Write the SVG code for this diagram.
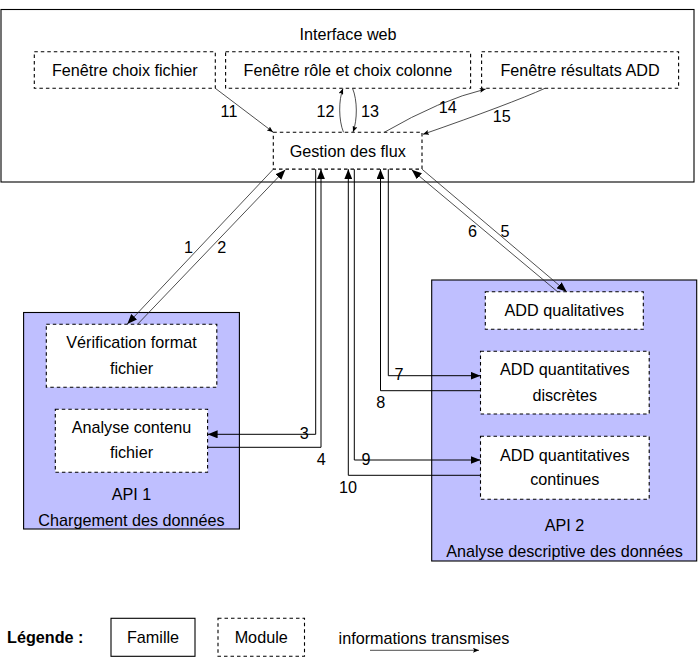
<svg xmlns="http://www.w3.org/2000/svg" width="699" height="671" viewBox="0 0 699 671">
<style>
  text { font-family: "Liberation Sans", Arial, sans-serif; font-size: 16.2px; fill: #000; text-anchor: middle; }
  .fam { fill: #bfbfff; stroke: #000; stroke-width: 1.1; }
  .frame { fill: #fff; stroke: #000; stroke-width: 1.1; }
  .mod { fill: #fff; stroke: #000; stroke-width: 1.1; stroke-dasharray: 3.5 3; }
  .ln { fill: none; stroke: #000; stroke-width: 1; }
  .dg { fill: none; stroke: #222; stroke-width: 0.8; }
  .cv { fill: none; stroke: #222; stroke-width: 0.8; }
  .bold { font-weight: bold; text-anchor: start; }
</style>
<defs>
  <marker id="big" markerUnits="userSpaceOnUse" markerWidth="10" markerHeight="8" refX="10" refY="4" orient="auto">
    <path d="M0,0 L10,4 L0,8 z" fill="#000"/>
  </marker>
  <marker id="small" markerUnits="userSpaceOnUse" markerWidth="6" markerHeight="5" refX="6" refY="2.5" orient="auto">
    <path d="M0,0 L6,2.5 L0,5 L1.2,2.5 z" fill="#000"/>
  </marker>
</defs>

<g id="interface-web">
  <rect class="frame" x="1" y="9.5" width="693" height="172.5"/>
  <text x="348" y="40">Interface web</text>
</g>
<g id="fenetre-choix-fichier">
  <rect class="mod" x="34.3" y="51.7" width="181" height="36.6"/>
  <text x="124.8" y="75.8">Fenêtre choix fichier</text>
</g>
<g id="fenetre-role-choix-colonne">
  <rect class="mod" x="225.6" y="51.7" width="245" height="36.6"/>
  <text x="348" y="75.8">Fenêtre rôle et choix colonne</text>
</g>
<g id="fenetre-resultats-add">
  <rect class="mod" x="481.6" y="51.7" width="197" height="36.6"/>
  <text x="580" y="75.8">Fenêtre résultats ADD</text>
</g>
<g id="gestion-des-flux">
  <rect class="mod" x="273.3" y="132.3" width="148.7" height="36.8"/>
  <text x="347.7" y="156.5">Gestion des flux</text>
</g>

<g id="api1">
  <rect class="fam" x="23.6" y="312.5" width="215.8" height="216.5"/>
  <text x="131.5" y="500">API 1</text>
  <text x="131.5" y="525.8">Chargement des données</text>
</g>
<g id="verification-format-fichier">
  <rect class="mod" x="46.3" y="324.3" width="170.5" height="63"/>
  <text x="131.5" y="347.8">Vérification format</text>
  <text x="131.5" y="373.8">fichier</text>
</g>
<g id="analyse-contenu-fichier">
  <rect class="mod" x="55.3" y="409.3" width="152.3" height="63"/>
  <text x="131.5" y="432.8">Analyse contenu</text>
  <text x="131.5" y="457.8">fichier</text>
</g>

<g id="api2">
  <rect class="fam" x="431.7" y="280" width="265" height="281"/>
  <text x="564.5" y="530.8">API 2</text>
  <text x="564.5" y="556.8">Analyse descriptive des données</text>
</g>
<g id="add-qualitatives">
  <rect class="mod" x="485.3" y="291.7" width="158" height="37.6"/>
  <text x="564.3" y="316">ADD qualitatives</text>
</g>
<g id="add-quantitatives-discretes">
  <rect class="mod" x="480.5" y="351.3" width="168.7" height="62.7"/>
  <text x="564.8" y="374.8">ADD quantitatives</text>
  <text x="564.8" y="400.8">discrètes</text>
</g>
<g id="add-quantitatives-continues">
  <rect class="mod" x="480.5" y="436.3" width="168.7" height="63"/>
  <text x="564.8" y="460.8">ADD quantitatives</text>
  <text x="564.8" y="484.8">continues</text>
</g>

<g id="connectors">
  <!-- 1 / 2 -->
  <path class="dg" d="M273.3,169.2 L127.3,324" marker-end="url(#big)"/>
  <path class="dg" d="M137.5,324.3 L285.3,169.8" marker-end="url(#big)"/>
  <!-- 3 / 4 -->
  <path class="ln" d="M315.7,169.2 L315.7,434.3 L207.6,434.3" marker-end="url(#big)"/>
  <path class="ln" d="M207.6,447.3 L321,447.3 L321,169.2" marker-end="url(#big)"/>
  <!-- 5 / 6 -->
  <path class="dg" d="M422,169.2 L566.7,291.7" marker-end="url(#big)"/>
  <path class="dg" d="M557.5,291.7 L411.7,169.8" marker-end="url(#big)"/>
  <!-- 7 / 8 -->
  <path class="ln" d="M388.3,169.2 L388.3,375.7 L480.5,375.7" marker-end="url(#big)"/>
  <path class="ln" d="M480.5,390.7 L380.5,390.7 L380.5,169.2" marker-end="url(#big)"/>
  <!-- 9 / 10 -->
  <path class="ln" d="M354.3,169.2 L354.3,460 L480.5,460" marker-end="url(#big)"/>
  <path class="ln" d="M480.5,475.3 L348.3,475.3 L348.3,169.2" marker-end="url(#big)"/>
  <!-- 11 -->
  <path class="cv" d="M215.3,88.3 L273,132" marker-end="url(#small)"/>
  <!-- 12 / 13 -->
  <path class="cv" d="M343.5,132.3 C338.5,120 338.5,100 343,88.6" marker-end="url(#small)"/>
  <path class="cv" d="M352.5,88.3 C357.5,100 357.5,120 353,132" marker-end="url(#small)"/>
  <!-- 14 / 15 -->
  <path class="cv" d="M384.3,132.3 Q440,100 485.7,89" marker-end="url(#small)"/>
  <path class="cv" d="M545,88.3 Q510,104 423,134.3" marker-end="url(#small)"/>

  <text x="188.5" y="253">1</text>
  <text x="221.7" y="253">2</text>
  <text x="304.3" y="439">3</text>
  <text x="321.3" y="465">4</text>
  <text x="505" y="236.5">5</text>
  <text x="472.6" y="236.5">6</text>
  <text x="399" y="380">7</text>
  <text x="380.7" y="407.5">8</text>
  <text x="366" y="465">9</text>
  <text x="348" y="492.5">10</text>
  <text x="229" y="117">11</text>
  <text x="325.5" y="117">12</text>
  <text x="370" y="117">13</text>
  <text x="447.7" y="112.5">14</text>
  <text x="501.7" y="122">15</text>
</g>

<g id="legende">
  <text class="bold" x="7" y="642.5">Légende :</text>
  <rect fill="#fff" stroke="#000" stroke-width="1.1" x="111" y="618.3" width="84" height="38"/>
  <text x="153" y="642.5">Famille</text>
  <rect class="mod" x="218" y="618.3" width="86.5" height="38"/>
  <text x="261.2" y="642.5">Module</text>
  <text x="424" y="644">informations transmises</text>
  <path class="cv" d="M370,650.3 L479,650.3" marker-end="url(#small)"/>
</g>
</svg>
